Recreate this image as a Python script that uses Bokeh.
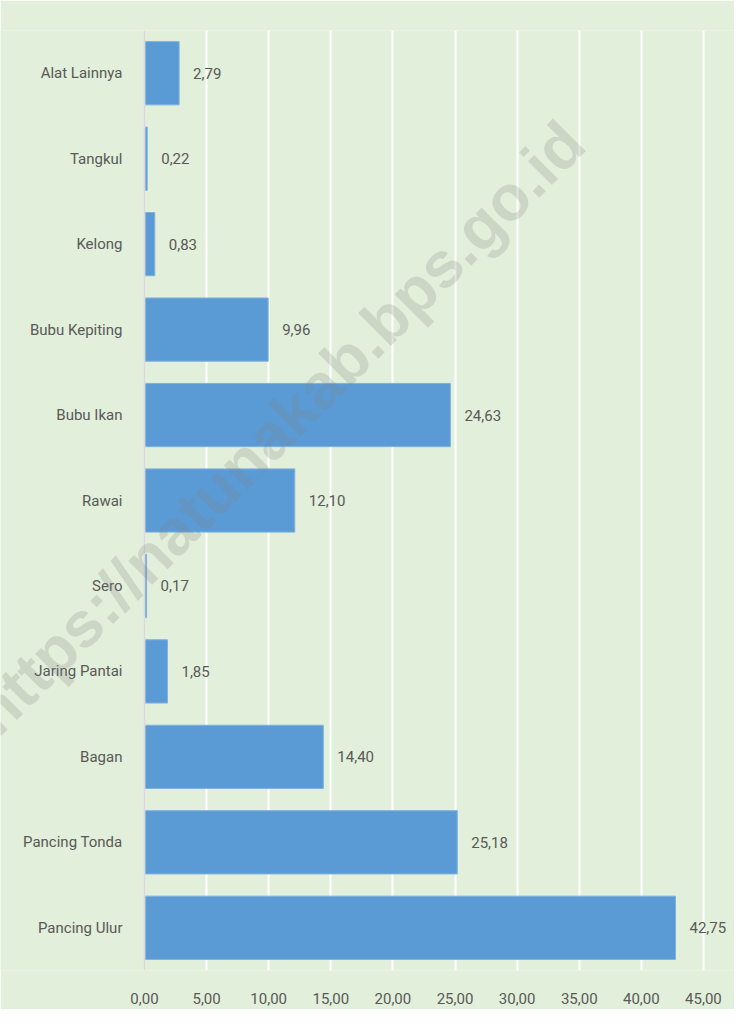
from bokeh.plotting import figure
from bokeh.models import ColumnDataSource, FactorRange, Range1d, FixedTicker, Label, Span
from bokeh.core.properties import value
from bokeh.embed import file_html
from bokeh.resources import INLINE

categories = ["Pancing Ulur", "Pancing Tonda", "Bagan", "Jaring Pantai", "Sero",
              "Rawai", "Bubu Ikan", "Bubu Kepiting", "Kelong", "Tangkul", "Alat Lainnya"]
values = [42.75, 25.18, 14.40, 1.85, 0.17, 12.10, 24.63, 9.96, 0.83, 0.22, 2.79]
x_ticks = [0, 5, 10, 15, 20, 25, 30, 35, 40, 45]
watermark = "https://natunakab.bps.go.id"

FONT = "Roboto"
TXT = "#595959"
BG = "#e2efda"
FS = "15px"

labels = [f"{v:.2f}".replace(".", ",") for v in values]
src = ColumnDataSource(dict(cat=categories, val=values, lab=labels,
                            zero=[0] * len(values)))

p = figure(width=734, height=1009, output_backend="svg", toolbar_location=None,
           y_range=FactorRange(*categories), x_range=Range1d(-11.59, 47.5),
           min_border_left=0, min_border_right=0, min_border_top=30,
           min_border_bottom=39)
p.background_fill_color = BG
p.border_fill_color = BG
p.outline_line_color = None

p.hbar(y="cat", right="val", left=0, height=0.74, source=src,
       fill_color="#5b9bd5", line_color="#7fb1de", line_width=1)

# value labels
p.text(x="val", y="cat", text="lab", source=src, x_offset=14,
       text_align="left", text_baseline="middle", text_color=TXT,
       text_font=value(FONT), text_font_size=FS)

# category labels (drawn in the plot area so the watermark is not clipped)
p.text(x="zero", y="cat", text="cat", source=src, x_offset=-22,
       text_align="right", text_baseline="middle", text_color=TXT,
       text_font=value(FONT), text_font_size=FS)

p.add_layout(Span(location=0, dimension="height", line_color="#d9d9d9", line_width=2))

p.xgrid.ticker = FixedTicker(ticks=x_ticks)
p.xgrid.grid_line_color = "white"
p.xgrid.grid_line_width = 2
p.ygrid.grid_line_color = None
p.yaxis.visible = False

p.xaxis.ticker = FixedTicker(ticks=x_ticks)
p.xaxis.major_label_overrides = {t: f"{t:.2f}".replace(".", ",") for t in x_ticks}
p.xaxis.axis_line_color = None
p.xaxis.major_tick_line_color = None
p.xaxis.minor_tick_line_color = None
p.xaxis.major_label_standoff = 16
p.xaxis.major_label_text_font = FONT
p.xaxis.major_label_text_font_size = FS
p.xaxis.major_label_text_color = TXT

p.add_layout(Label(x=10.75, y=6.35, text=watermark, angle=45, angle_units="deg",
                   text_align="center", text_baseline="middle",
                   text_font="Liberation Sans", text_font_style="bold",
                   text_font_size="64px", text_color="#7f7f7f", text_alpha=0.22))

open("out.html", "w").write(file_html(p, INLINE))
